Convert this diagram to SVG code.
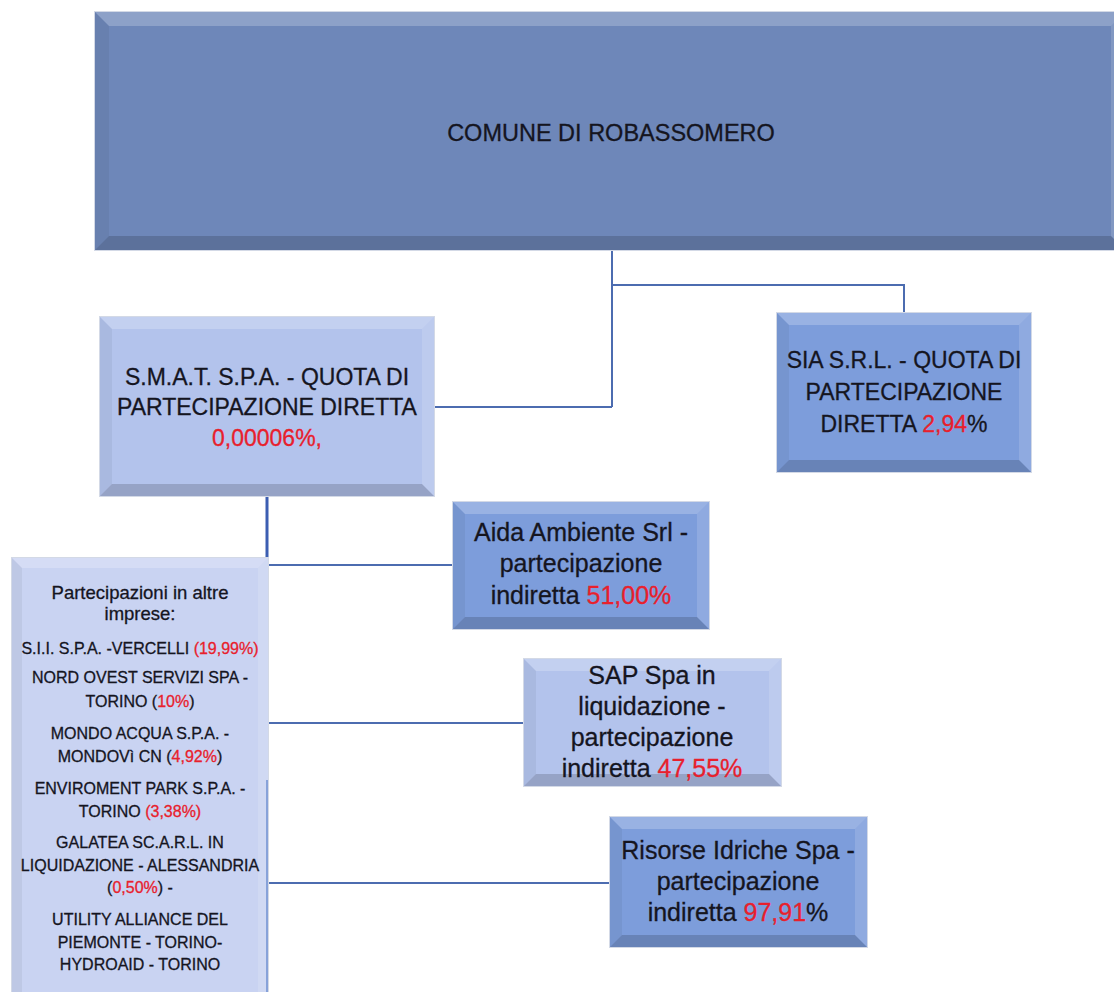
<svg xmlns="http://www.w3.org/2000/svg" width="1114" height="992" viewBox="0 0 1114 992">
<style>
  text{font-family:"Liberation Sans",Arial,sans-serif;fill:#15151f;stroke:#15151f;stroke-width:.3;text-anchor:middle}
  .r{fill:#e8202c;stroke:#e8202c}
  .bt{fill:#ffffff;opacity:.22}
  .br{fill:#ffffff;opacity:.14}
  .bl{fill:#000000;opacity:.05}
  .bb{fill:#000000;opacity:.16}
  .edge{fill:none;stroke:#d3d9e6;stroke-width:2}
  .dark{fill:#6e87b9}
  .mid{fill:#7d9ddb}
  .light{fill:#b3c3ec}
  .pale{fill:#c9d3f2}
  .c{fill:none;stroke:#4c6cb0;stroke-width:2}
  .ct{fill:none;stroke:#3c5eb2;stroke-width:3}
  .rb{fill:none;stroke:#6f8fd0;stroke-width:1.5}
</style>
<rect width="1114" height="992" fill="#ffffff"/>

<g id="connectors">
  <path class="c" d="M612,250 V407 M434,407 H612 M612,285 H904 V313"/>
  <path class="ct" d="M267,496 V780"/>
  <path class="c" d="M267,565 H453 M267,723 H524 M268,883 H610"/>
</g>

<g id="comune">
  <rect class="edge" x="95" y="12" width="1030" height="238"/>
  <rect class="dark" x="95" y="12" width="1030" height="238"/>
  <polygon class="bt" points="95,12 1125,12 1111,26 109,26"/>
  <polygon class="bb" points="95,250 1125,250 1111,236 109,236"/>
  <polygon class="bl" points="95,12 109,26 109,236 95,250"/>
  <polygon class="br" points="1125,12 1111,26 1111,236 1125,250"/>
  <text x="611" y="141" font-size="23.5">COMUNE DI ROBASSOMERO</text>
</g>

<g id="smat">
  <rect class="edge" x="100" y="317" width="334" height="179"/>
  <rect class="light" x="100" y="317" width="334" height="179"/>
  <polygon class="bt" points="100,317 434,317 422,329 112,329"/>
  <polygon class="bb" points="100,496 434,496 422,484 112,484"/>
  <polygon class="bl" points="100,317 112,329 112,484 100,496"/>
  <polygon class="br" points="434,317 422,329 422,484 434,496"/>
  <text x="267" y="385" font-size="23">S.M.A.T. S.P.A. - QUOTA DI</text>
  <text x="267" y="415" font-size="23">PARTECIPAZIONE DIRETTA</text>
  <text x="267" y="446" font-size="23" class="r">0,00006%,</text>
</g>

<g id="sia">
  <rect class="edge" x="777" y="313" width="254" height="159"/>
  <rect class="mid" x="777" y="313" width="254" height="159"/>
  <polygon class="bt" points="777,313 1031,313 1019,325 789,325"/>
  <polygon class="bb" points="777,472 1031,472 1019,460 789,460"/>
  <polygon class="bl" points="777,313 789,325 789,460 777,472"/>
  <polygon class="br" points="1031,313 1019,325 1019,460 1031,472"/>
  <text x="904" y="368" font-size="23">SIA S.R.L. - QUOTA DI</text>
  <text x="904" y="400" font-size="23">PARTECIPAZIONE</text>
  <text x="904" y="432" font-size="23">DIRETTA <tspan class="r">2,94</tspan>%</text>
</g>

<g id="aida">
  <rect class="edge" x="453" y="502" width="256" height="127"/>
  <rect class="mid" x="453" y="502" width="256" height="127"/>
  <polygon class="bt" points="453,502 709,502 697,514 465,514"/>
  <polygon class="bb" points="453,629 709,629 697,617 465,617"/>
  <polygon class="bl" points="453,502 465,514 465,617 453,629"/>
  <polygon class="br" points="709,502 697,514 697,617 709,629"/>
  <text x="581" y="541" font-size="25">Aida Ambiente Srl -</text>
  <text x="581" y="572" font-size="25">partecipazione</text>
  <text x="581" y="604" font-size="25">indiretta <tspan class="r">51,00%</tspan></text>
</g>

<g id="sap">
  <rect class="edge" x="524" y="659" width="257" height="127"/>
  <rect class="light" x="524" y="659" width="257" height="127"/>
  <polygon class="bt" points="524,659 781,659 769,671 536,671"/>
  <polygon class="bb" points="524,786 781,786 769,774 536,774"/>
  <polygon class="bl" points="524,659 536,671 536,774 524,786"/>
  <polygon class="br" points="781,659 769,671 769,774 781,786"/>
  <text x="652" y="684" font-size="25">SAP Spa in</text>
  <text x="652" y="715" font-size="25">liquidazione -</text>
  <text x="652" y="746" font-size="25">partecipazione</text>
  <text x="652" y="777" font-size="25">indiretta <tspan class="r">47,55%</tspan></text>
</g>

<g id="risorse">
  <rect class="edge" x="610" y="817" width="257" height="130"/>
  <rect class="mid" x="610" y="817" width="257" height="130"/>
  <polygon class="bt" points="610,817 867,817 855,829 622,829"/>
  <polygon class="bb" points="610,947 867,947 855,935 622,935"/>
  <polygon class="bl" points="610,817 622,829 622,935 610,947"/>
  <polygon class="br" points="867,817 855,829 855,935 867,947"/>
  <text x="738" y="859" font-size="25">Risorse Idriche Spa -</text>
  <text x="738" y="890" font-size="25">partecipazione</text>
  <text x="738" y="921" font-size="25">indiretta <tspan class="r">97,91</tspan>%</text>
</g>

<g id="altre">
  <rect class="edge" x="12" y="558" width="256" height="450"/>
  <rect class="pale" x="12" y="558" width="256" height="450"/>
  <polygon class="bt" points="12,558 268,558 258,568 22,568"/>
  <polygon class="bl" points="12,558 22,568 22,998 12,1008"/>
  <polygon class="br" points="268,558 258,568 258,998 268,1008"/>
  <path class="rb" d="M267,780 V992"/>
  <text x="140" y="599" font-size="18.5">Partecipazioni in altre</text>
  <text x="140" y="620" font-size="18.5">imprese:</text>
  <text x="140" y="654" font-size="16">S.I.I. S.P.A. -VERCELLI <tspan class="r">(19,99%)</tspan></text>
  <text x="140" y="683" font-size="16">NORD OVEST SERVIZI SPA -</text>
  <text x="140" y="707" font-size="16">TORINO (<tspan class="r">10%</tspan>)</text>
  <text x="140" y="739" font-size="16">MONDO ACQUA S.P.A. -</text>
  <text x="140" y="762" font-size="16">MONDOVì CN (<tspan class="r">4,92%</tspan>)</text>
  <text x="140" y="794" font-size="16">ENVIROMENT PARK S.P.A. -</text>
  <text x="140" y="817" font-size="16">TORINO <tspan class="r">(3,38%)</tspan></text>
  <text x="140" y="848" font-size="16">GALATEA SC.A.R.L. IN</text>
  <text x="140" y="871" font-size="16">LIQUIDAZIONE - ALESSANDRIA</text>
  <text x="140" y="893" font-size="16">(<tspan class="r">0,50%</tspan>) -</text>
  <text x="140" y="925" font-size="16">UTILITY ALLIANCE DEL</text>
  <text x="140" y="948" font-size="16">PIEMONTE - TORINO-</text>
  <text x="140" y="970" font-size="16">HYDROAID - TORINO</text>
</g>
</svg>
